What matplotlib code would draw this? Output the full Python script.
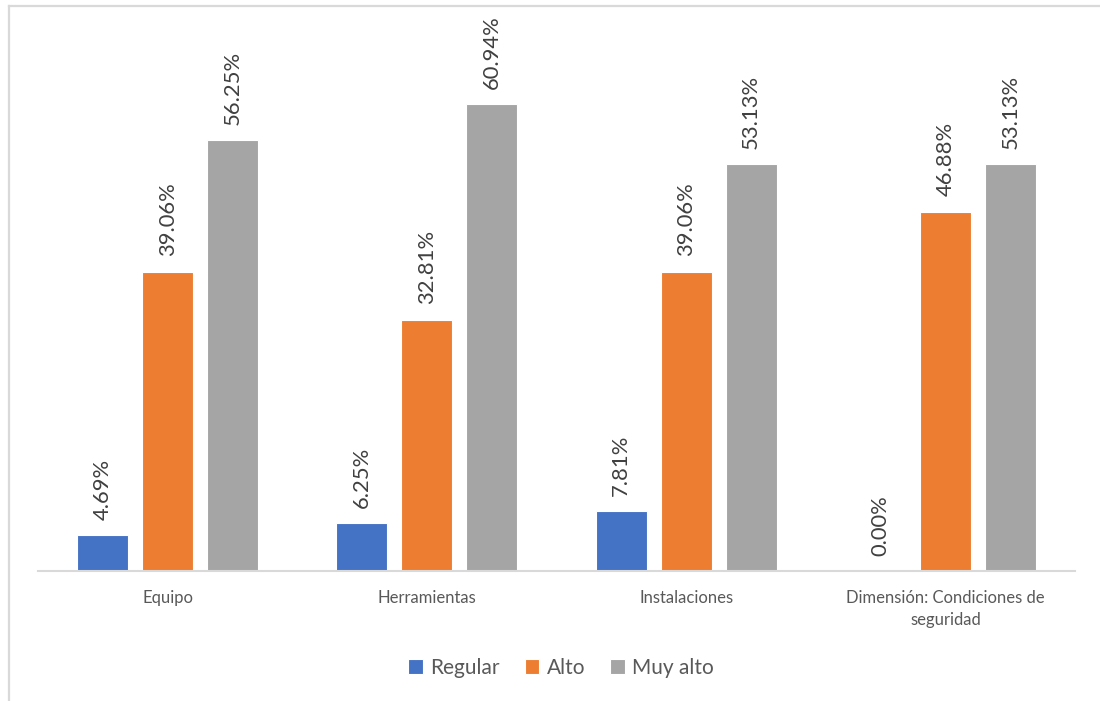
import matplotlib
matplotlib.use("Agg")
import matplotlib.pyplot as plt
import numpy as np
from matplotlib.lines import Line2D

categories = ["Equipo", "Herramientas", "Instalaciones", "Dimensión: Condiciones de\nseguridad"]
series_names = ["Regular", "Alto", "Muy alto"]
regular = [4.69, 6.25, 7.81, 0.00]
alto = [39.06, 32.81, 39.06, 46.88]
muy_alto = [56.25, 60.94, 53.13, 53.13]
colors = ["#4472C4", "#ED7D31", "#A5A5A5"]

plt.rcParams["font.family"] = ["Lato", "DejaVu Sans"]

fig = plt.figure(figsize=(11, 7.01), dpi=100)
W, H = 1100, 701

# chart area border (left and top edges visible)
fig.add_artist(Line2D([8.5 / W, 8.5 / W], [0, 1 - 5.5 / H], transform=fig.transFigure,
                      color="#D9D9D9", lw=1.6))
fig.add_artist(Line2D([8.5 / W, 1], [1 - 5.5 / H, 1 - 5.5 / H], transform=fig.transFigure,
                      color="#D9D9D9", lw=1.6))

ax_left, ax_right = 38, 1075
ax_base, ax_top = 571, 20
ax = fig.add_axes([ax_left / W, 1 - ax_base / H, (ax_right - ax_left) / W, (ax_base - ax_top) / H])

x = np.arange(len(categories))
width = 0.197
offset = 0.2507
all_series = [regular, alto, muy_alto]
for i, (vals, name, c) in enumerate(zip(all_series, series_names, colors)):
    pos = x + (i - 1) * offset
    ax.bar(pos, vals, width, color=c, edgecolor="white", linewidth=0.8, label=name)
    for xp, v in zip(pos, vals):
        ax.annotate(f"{v:.2f}%", (xp, v), xytext=(0, 11), textcoords="offset points",
                    rotation=90, ha="center", va="bottom", fontsize=15.8, color="#404040")

px_per_pct = 467 / 60.94
ax.set_ylim(0, (ax_base - ax_top) / px_per_pct)
ax.set_xlim(-0.5, len(categories) - 0.5)
ax.set_xticks(x)
ax.set_xticklabels(categories, fontsize=12, color="#595959", linespacing=1.4)
ax.tick_params(axis="x", length=0, pad=14)
ax.set_yticks([])
for s in ["top", "right", "left"]:
    ax.spines[s].set_visible(False)
ax.spines["bottom"].set_color("#D9D9D9")
ax.spines["bottom"].set_linewidth(1.5)

leg = fig.legend(loc="center", bbox_to_anchor=(561 / W, 1 - 668 / H), ncol=3, frameon=False,
                 fontsize=15, handlelength=0.7, handleheight=0.7, handletextpad=0.35,
                 columnspacing=1.2)
for t in leg.get_texts():
    t.set_color("#595959")

fig.savefig("out.png", dpi=100)
